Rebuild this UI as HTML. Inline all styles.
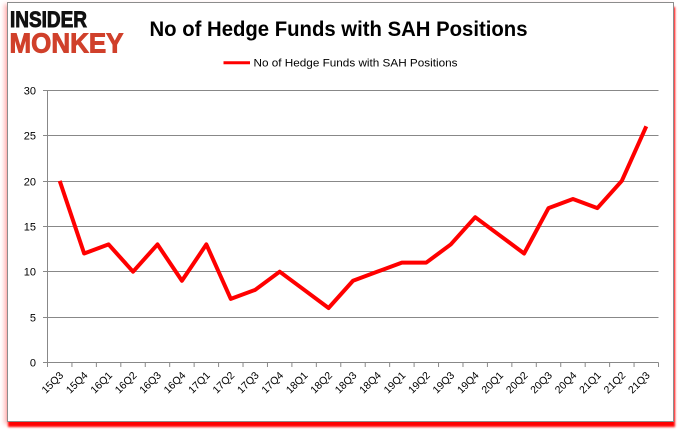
<!DOCTYPE html>
<html>
<head>
<meta charset="utf-8">
<style>
  html,body{margin:0;padding:0;background:#fff;}
  body{width:680px;height:433px;position:relative;overflow:hidden;}
  .box{position:absolute;left:7px;top:2px;width:665px;height:418px;border:1px solid #8c8c8c;background:#fff;
       box-shadow:1px 5px 2px #ff0000, -3px 2px 4px rgba(255,0,0,0.25);}
  svg{position:absolute;left:0;top:0;}
</style>
</head>
<body>
<div class="box"></div>
<svg width="680" height="433" viewBox="0 0 680 433" xmlns="http://www.w3.org/2000/svg">
  <!-- Logo -->
  <text x="10" y="27" font-family="Liberation Sans, sans-serif" font-weight="bold" font-size="22" textLength="77" lengthAdjust="spacingAndGlyphs" fill="#111" stroke="#111" stroke-width="0.9">INSIDER</text>
  <text x="9.5" y="52.5" font-family="Liberation Sans, sans-serif" font-weight="bold" font-size="27.5" textLength="114" lengthAdjust="spacingAndGlyphs" fill="#d0402b" stroke="#d0402b" stroke-width="0.9">MONKEY</text>

  <!-- Title -->
  <text x="149.5" y="36" font-family="Liberation Sans, sans-serif" font-weight="bold" font-size="21" textLength="378" lengthAdjust="spacingAndGlyphs" fill="#000">No of Hedge Funds with SAH Positions</text>

  <!-- Legend -->
  <line x1="223.5" y1="62.7" x2="250" y2="62.7" stroke="#ff0000" stroke-width="3"/>
  <text x="253.5" y="66.7" font-family="Liberation Sans, sans-serif" font-size="11" textLength="204" lengthAdjust="spacingAndGlyphs" fill="#000">No of Hedge Funds with SAH Positions</text>

  <!-- Gridlines -->
  <g stroke="#888" stroke-width="1">
    <line x1="47.5" y1="90.5" x2="658.5" y2="90.5"/>
    <line x1="47.5" y1="135.5" x2="658.5" y2="135.5"/>
    <line x1="47.5" y1="181.5" x2="658.5" y2="181.5"/>
    <line x1="47.5" y1="226.5" x2="658.5" y2="226.5"/>
    <line x1="47.5" y1="271.5" x2="658.5" y2="271.5"/>
    <line x1="47.5" y1="317.5" x2="658.5" y2="317.5"/>
    <line x1="47.5" y1="362.5" x2="658.5" y2="362.5"/>
    <line x1="47.5" y1="90.5" x2="47.5" y2="362.5"/>
    <line x1="43" y1="90.5" x2="47.5" y2="90.5"/>
    <line x1="43" y1="135.5" x2="47.5" y2="135.5"/>
    <line x1="43" y1="181.5" x2="47.5" y2="181.5"/>
    <line x1="43" y1="226.5" x2="47.5" y2="226.5"/>
    <line x1="43" y1="271.5" x2="47.5" y2="271.5"/>
    <line x1="43" y1="317.5" x2="47.5" y2="317.5"/>
    <line x1="43" y1="362.5" x2="47.5" y2="362.5"/>
  </g>
  <g stroke="#888" stroke-width="1">
    <line x1="47.5" y1="362.5" x2="47.5" y2="367"/>
    <line x1="71.94" y1="362.5" x2="71.94" y2="367"/>
    <line x1="96.38" y1="362.5" x2="96.38" y2="367"/>
    <line x1="120.82" y1="362.5" x2="120.82" y2="367"/>
    <line x1="145.26" y1="362.5" x2="145.26" y2="367"/>
    <line x1="169.7" y1="362.5" x2="169.7" y2="367"/>
    <line x1="194.14" y1="362.5" x2="194.14" y2="367"/>
    <line x1="218.58" y1="362.5" x2="218.58" y2="367"/>
    <line x1="243.02" y1="362.5" x2="243.02" y2="367"/>
    <line x1="267.46" y1="362.5" x2="267.46" y2="367"/>
    <line x1="291.9" y1="362.5" x2="291.9" y2="367"/>
    <line x1="316.34" y1="362.5" x2="316.34" y2="367"/>
    <line x1="340.78" y1="362.5" x2="340.78" y2="367"/>
    <line x1="365.22" y1="362.5" x2="365.22" y2="367"/>
    <line x1="389.66" y1="362.5" x2="389.66" y2="367"/>
    <line x1="414.1" y1="362.5" x2="414.1" y2="367"/>
    <line x1="438.54" y1="362.5" x2="438.54" y2="367"/>
    <line x1="462.98" y1="362.5" x2="462.98" y2="367"/>
    <line x1="487.42" y1="362.5" x2="487.42" y2="367"/>
    <line x1="511.86" y1="362.5" x2="511.86" y2="367"/>
    <line x1="536.3" y1="362.5" x2="536.3" y2="367"/>
    <line x1="560.74" y1="362.5" x2="560.74" y2="367"/>
    <line x1="585.18" y1="362.5" x2="585.18" y2="367"/>
    <line x1="609.62" y1="362.5" x2="609.62" y2="367"/>
    <line x1="634.06" y1="362.5" x2="634.06" y2="367"/>
    <line x1="658.5" y1="362.5" x2="658.5" y2="367"/>
  </g>

  <!-- Y labels -->
  <g font-family="Liberation Sans, sans-serif" font-size="11" fill="#000" text-anchor="end">
    <text x="36" y="94.5">30</text>
    <text x="36" y="139.5">25</text>
    <text x="36" y="185.5">20</text>
    <text x="36" y="230.5">15</text>
    <text x="36" y="275.5">10</text>
    <text x="36" y="321.5">5</text>
    <text x="36" y="366.5">0</text>
  </g>

  <!-- X labels -->
  <g font-family="Liberation Sans, sans-serif" font-size="10.5" fill="#000" text-anchor="end">
    <text transform="translate(64,376) rotate(-45)">15Q3</text>
    <text transform="translate(88.44,376) rotate(-45)">15Q4</text>
    <text transform="translate(112.88,376) rotate(-45)">16Q1</text>
    <text transform="translate(137.32,376) rotate(-45)">16Q2</text>
    <text transform="translate(161.76,376) rotate(-45)">16Q3</text>
    <text transform="translate(186.2,376) rotate(-45)">16Q4</text>
    <text transform="translate(210.64,376) rotate(-45)">17Q1</text>
    <text transform="translate(235.08,376) rotate(-45)">17Q2</text>
    <text transform="translate(259.52,376) rotate(-45)">17Q3</text>
    <text transform="translate(283.96,376) rotate(-45)">17Q4</text>
    <text transform="translate(308.4,376) rotate(-45)">18Q1</text>
    <text transform="translate(332.84,376) rotate(-45)">18Q2</text>
    <text transform="translate(357.28,376) rotate(-45)">18Q3</text>
    <text transform="translate(381.72,376) rotate(-45)">18Q4</text>
    <text transform="translate(406.16,376) rotate(-45)">19Q1</text>
    <text transform="translate(430.6,376) rotate(-45)">19Q2</text>
    <text transform="translate(455.04,376) rotate(-45)">19Q3</text>
    <text transform="translate(479.48,376) rotate(-45)">19Q4</text>
    <text transform="translate(503.92,376) rotate(-45)">20Q1</text>
    <text transform="translate(528.36,376) rotate(-45)">20Q2</text>
    <text transform="translate(552.8,376) rotate(-45)">20Q3</text>
    <text transform="translate(577.24,376) rotate(-45)">20Q4</text>
    <text transform="translate(601.68,376) rotate(-45)">21Q1</text>
    <text transform="translate(626.12,376) rotate(-45)">21Q2</text>
    <text transform="translate(650.56,376) rotate(-45)">21Q3</text>
  </g>

  <!-- Series -->
  <polyline fill="none" stroke="#ff0000" stroke-width="4" stroke-linejoin="round" stroke-linecap="butt"
    points="59.72,180.83 84.16,253.5 108.6,244.42 133.04,271.67 157.48,244.42 181.92,280.75 206.36,244.42 230.8,298.92 255.24,289.83 279.68,271.67 304.12,289.83 328.56,308 353,280.75 377.44,271.67 401.88,262.58 426.32,262.58 450.76,244.42 475.2,217.17 499.64,235.33 524.08,253.5 548.52,208.08 572.96,199 597.4,208.08 621.84,180.83 646.28,126.33"/>
</svg>
</body>
</html>
